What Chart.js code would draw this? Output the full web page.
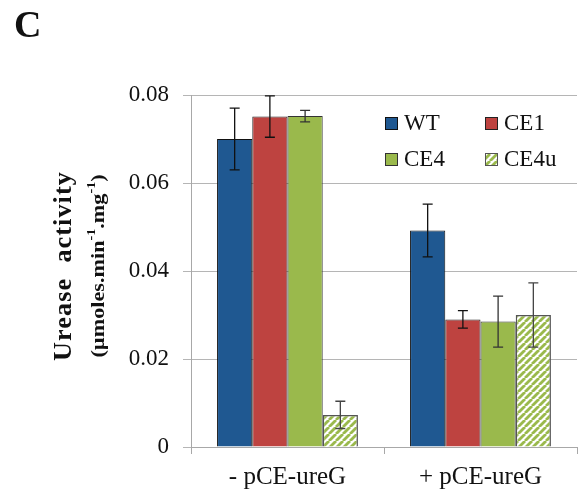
<!DOCTYPE html>
<html>
<head>
<meta charset="utf-8">
<script src="https://cdn.jsdelivr.net/npm/chart.js@4.4.1/dist/chart.umd.min.js"></script>
<style>
  body { margin: 0; background: #fff; }
  canvas { display: block; }
</style>
</head>
<body>
<canvas id="ureaseChart" width="583" height="495"></canvas>
<script>
// Data
const categories = ["- pCE-ureG", "+ pCE-ureG"];
const seriesNames = ["WT", "CE1", "CE4", "CE4u"];
const wtValues = [0.0700, 0.0492];
const ce1Values = [0.0751, 0.0290];
const ce4Values = [0.0752, 0.0285];
const ce4uValues = [0.0073, 0.0300];
const wtErrors = [0.0070, 0.0060];
const ce1Errors = [0.0047, 0.0020];
const ce4Errors = [0.0013, 0.0058];
const ce4uErrors = [0.0031, 0.0073];
const yTicks = [0, 0.02, 0.04, 0.06, 0.08];

const serif = "'Liberation Serif', 'Times New Roman', serif";

// hatched fill for CE4u
function makeHatch() {
  const s = 7;
  const c = document.createElement("canvas");
  c.width = s;
  c.height = s;
  const g = c.getContext("2d");
  g.fillStyle = "#fff";
  g.fillRect(0, 0, s, s);
  g.strokeStyle = "#9ab94c";
  g.lineWidth = 2.8;
  for (let k = -1; k <= 1; k++) {
    g.beginPath();
    g.moveTo(k * s, s);
    g.lineTo(k * s + s, 0);
    g.stroke();
  }
  return g.createPattern(c, "repeat");
}
const hatch = makeHatch();

const ctx = document.getElementById("ureaseChart").getContext("2d");

// error bars
const errorBars = {
  id: "errorBars",
  afterDatasetsDraw(chart) {
    const c = chart.ctx;
    const y = chart.scales.y;
    chart.data.datasets.forEach((ds, i) => {
      const meta = chart.getDatasetMeta(i);
      meta.data.forEach((bar, j) => {
        const v = ds.data[j];
        const e = ds.errors[j];
        const top = y.getPixelForValue(v + e);
        const bot = y.getPixelForValue(v - e);
        c.save();
        c.strokeStyle = ds.errorColor;
        c.lineWidth = 1.3;
        c.beginPath();
        c.moveTo(bar.x, top);
        c.lineTo(bar.x, bot);
        c.moveTo(bar.x - 5, top);
        c.lineTo(bar.x + 5, top);
        c.moveTo(bar.x - 5, bot);
        c.lineTo(bar.x + 5, bot);
        c.stroke();
        c.restore();
      });
    });
  },
};

// legend in 2x2 grid, panel letter, y-axis title
const decorations = {
  id: "decorations",
  afterDraw(chart) {
    const c = chart.ctx;
    c.save();
    c.fillStyle = "#111";
    c.font = "bold 38px " + serif;
    c.textBaseline = "alphabetic";
    c.fillText("C", 14, 37);

    // legend
    const cols = [385, 485];
    const rows = [117, 153];
    c.font = "23px " + serif;
    c.textBaseline = "middle";
    chart.data.datasets.forEach((ds, i) => {
      const x = cols[i % 2];
      const yy = rows[Math.floor(i / 2)];
      c.fillStyle = ds.backgroundColor;
      c.fillRect(x, yy, 13, 13);
      c.strokeStyle = ds.borderColor;
      c.lineWidth = 1;
      c.strokeRect(x + 0.5, yy + 0.5, 12, 12);
      c.fillStyle = "#111";
      c.fillText(ds.label, x + 19, yy + 7);
    });

    // y title (slightly stretched along the text, like the original)
    c.translate(65, 266);
    c.rotate(-Math.PI / 2);
    c.textAlign = "center";
    c.textBaseline = "middle";
    c.save();
    c.scale(1.05, 1);
    c.font = "bold 25px " + serif;
    c.letterSpacing = "1px";
    c.fillText("Urease  activity", 0, 0);
    c.restore();

    const parts = [
      ["(\u00b5moles.min", 19, 0],
      ["-1", 12, -7],
      [".mg", 19, 0],
      ["-1", 12, -7],
      [")", 19, 0],
    ];
    let total = 0;
    parts.forEach((p) => {
      c.font = "bold " + p[1] + "px " + serif;
      total += c.measureText(p[0]).width;
    });
    c.scale(1.17, 1);
    let px = -total / 2;
    c.textAlign = "left";
    parts.forEach((p) => {
      c.font = "bold " + p[1] + "px " + serif;
      c.fillText(p[0], px, 34 + p[2]);
      px += c.measureText(p[0]).width;
    });
    c.restore();
  },
};

const series = [
  { data: wtValues, errors: wtErrors, color: "#1f5891", border: "#111", err: "#111" },
  { data: ce1Values, errors: ce1Errors, color: "#be4340", border: "#222", err: "#111" },
  { data: ce4Values, errors: ce4Errors, color: "#9ab94c", border: "#333", err: "#333" },
  { data: ce4uValues, errors: ce4uErrors, color: hatch, border: "#555", err: "#444" },
];

const ureaseChart = new Chart(ctx, {
  type: "bar",
  data: {
    labels: categories,
    datasets: series.map((s, i) => ({
      label: seriesNames[i],
      data: s.data,
      errors: s.errors,
      errorColor: s.err,
      backgroundColor: s.color,
      borderColor: s.border,
      borderWidth: i === 3 ? 1.5 : 1,
      barPercentage: 1,
      categoryPercentage: 0.73,
    })),
  },
  options: {
    responsive: false,
    animation: false,
    devicePixelRatio: 1,
    layout: { padding: { top: 95, right: 6, left: 0, bottom: 0 } },
    plugins: { legend: { display: false }, tooltip: { enabled: false } },
    scales: {
      x: {
        grid: { drawOnChartArea: false, tickLength: 7, color: "#a8a8a8" },
        border: { color: "#a8a8a8" },
        ticks: { font: { family: serif, size: 25 }, color: "#111", padding: 8 },
        afterFit: (scale) => { scale.height = 48; },
      },
      y: {
        min: 0,
        max: 0.08,
        afterBuildTicks: (scale) => { scale.ticks = yTicks.map((v) => ({ value: v })); },
        ticks: {
          font: { family: serif, size: 23 },
          color: "#111",
          padding: 14,
          callback: (v) => (v === 0 ? "0" : v.toFixed(2)),
        },
        grid: { color: "#b5b5b5", tickLength: 8 },
        border: { color: "#a8a8a8" },
        afterFit: (scale) => { scale.width = 191; },
      },
    },
  },
  plugins: [errorBars, decorations],
});
</script>
</body>
</html>
